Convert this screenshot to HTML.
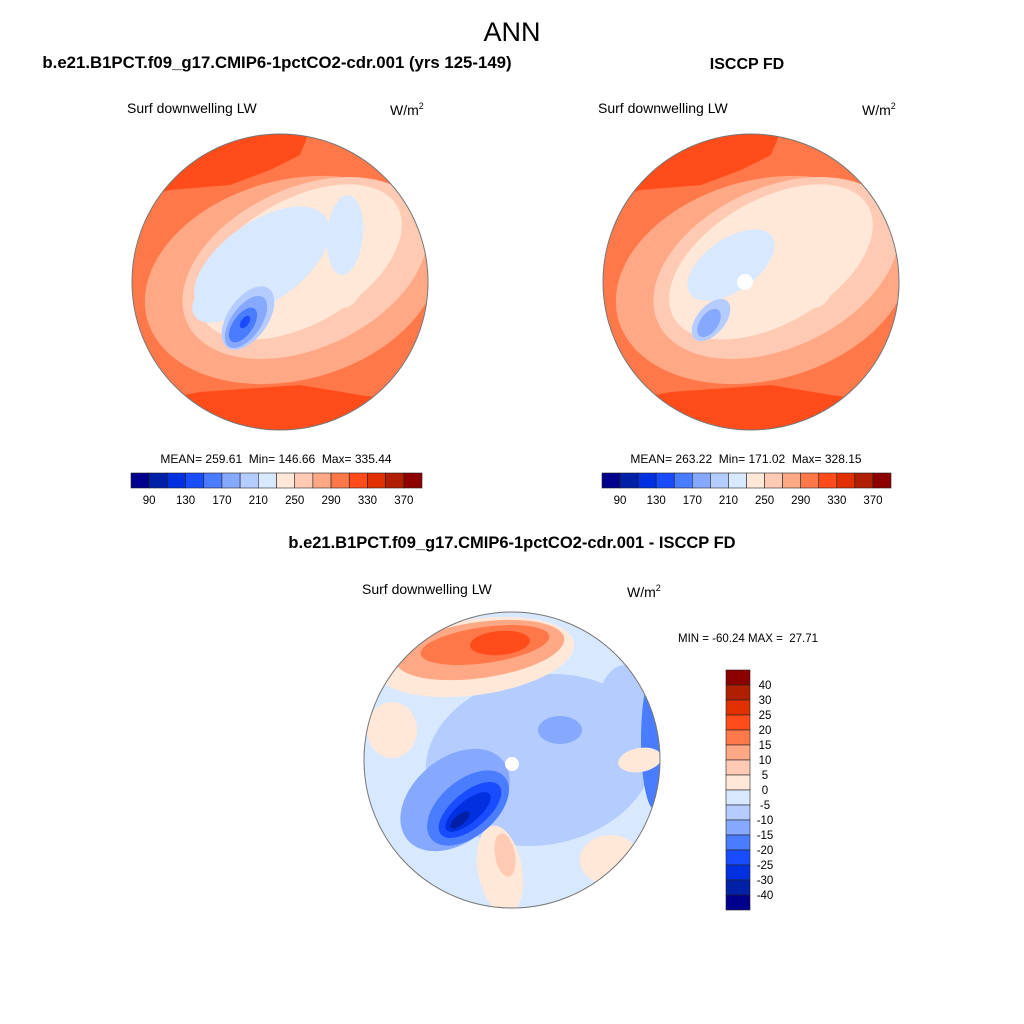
<!DOCTYPE html>
<html><head><meta charset="utf-8"><style>
body{margin:0;background:#fff;}
svg{display:block;font-family:"Liberation Sans",sans-serif;}
</style></head><body>
<svg id="fig" width="1024" height="1024" viewBox="0 0 1024 1024">
<defs>
<clipPath id="c1"><circle cx="280" cy="282" r="148"/></clipPath>
<clipPath id="c2"><circle cx="751" cy="282" r="148"/></clipPath>
<clipPath id="c3"><circle cx="512" cy="760" r="148"/></clipPath>
</defs>
<text x="512" y="41" font-size="27" text-anchor="middle">ANN</text>
<text x="277" y="68" font-size="16.8" font-weight="bold" text-anchor="middle">b.e21.B1PCT.f09_g17.CMIP6-1pctCO2-cdr.001 (yrs 125-149)</text>
<text x="747" y="69" font-size="16" font-weight="bold" text-anchor="middle">ISCCP FD</text>
<text x="512" y="548" font-size="16.5" font-weight="bold" text-anchor="middle">b.e21.B1PCT.f09_g17.CMIP6-1pctCO2-cdr.001 - ISCCP FD</text>

<text x="127" y="113" font-size="14">Surf downwelling LW</text>
<text x="390" y="115" font-size="14">W/m<tspan font-size="9" dy="-6">2</tspan></text>
<text x="598" y="113" font-size="14">Surf downwelling LW</text>
<text x="862" y="115" font-size="14">W/m<tspan font-size="9" dy="-6">2</tspan></text>
<text x="362" y="594" font-size="14">Surf downwelling LW</text>
<text x="627" y="597" font-size="14">W/m<tspan font-size="9" dy="-6">2</tspan></text>

<g id="map1" clip-path="url(#c1)"></g>
<circle cx="280" cy="282" r="148" fill="none" stroke="#777" stroke-width="1"/>
<g id="map2" clip-path="url(#c2)"></g>
<circle cx="751" cy="282" r="148" fill="none" stroke="#777" stroke-width="1"/>
<g id="map3" clip-path="url(#c3)"></g>
<circle cx="512" cy="760" r="148" fill="none" stroke="#777" stroke-width="1"/>

<text x="276" y="463" font-size="12" text-anchor="middle" xml:space="preserve">MEAN= 259.61  Min= 146.66  Max= 335.44</text>
<text x="746" y="463" font-size="12" text-anchor="middle" xml:space="preserve">MEAN= 263.22  Min= 171.02  Max= 328.15</text>
<text x="678" y="642" font-size="11.5" xml:space="preserve">MIN = -60.24 MAX =  27.71</text>
<g id="cb1"></g>
<g id="cb2"></g>
<g id="cb3"></g>
</svg>
<script>
const colors=["#00008c","#0020a8","#0030e0","#1a4cff","#4a7cff","#86a8ff","#b4ccff","#d8e8ff","#ffe8d8","#ffcab4","#ffa886","#ff784a","#ff4c1a","#e03000","#b02000","#8c0000"];
const absLabels=["90","130","170","210","250","290","330","370"];
const diffLabels=["40","30","25","20","15","10","5","0","-5","-10","-15","-20","-25","-30","-40"];
const NS="http://www.w3.org/2000/svg";
function mk(p,t,a){const e=document.createElementNS(NS,t);for(const k in a)e.setAttribute(k,a[k]);p.appendChild(e);return e;}

function hbar(id,x0,w){
  const g=document.getElementById(id);const bw=w/colors.length;
  colors.forEach((c,i)=>{const r=mk(g,'rect',{x:x0+i*bw,y:473,width:bw,height:15,fill:c,stroke:'#222','stroke-width':0.6});
    
    });
  absLabels.forEach((l,i)=>{const t=mk(g,'text',{x:x0+(1+2*i)*bw,y:504,'font-size':11.5,'text-anchor':'middle'});t.textContent=l;
    
    });
}
hbar('cb1',131,291);hbar('cb2',602,289);
(function(){const g=document.getElementById('cb3');const bh=15;
  colors.forEach((c,i)=>{const r=mk(g,'rect',{x:726,y:670+i*bh,width:24,height:bh,fill:colors[15-i],stroke:'#222','stroke-width':0.6});
    
    });
  diffLabels.forEach((l,i)=>{const t=mk(g,'text',{x:765,y:670+(i+1)*bh+4,'font-size':11.5,'text-anchor':'middle'});t.textContent=l;
    
    });
})();

function ell(g,cx,cy,rx,ry,rot,fill){mk(g,'ellipse',{cx,cy,rx,ry,fill,transform:`rotate(${rot} ${cx} ${cy})`});}
function poly(g,pts,fill){mk(g,'polygon',{points:pts,fill});}
function absMap(id,dx,right){
  const g=document.getElementById(id);
  const G=mk(g,'g',{transform:`translate(${dx},0)`});
  mk(G,'rect',{x:120,y:120,width:330,height:330,fill:'#ff784a'});
  poly(G,"130,200 170,190 230,185 270,170 300,155 310,130 130,130",'#ff4c1a');
  poly(G,"130,405 200,392 300,385 360,395 430,405 430,440 130,440",'#ff4c1a');
  ell(G,292,280,150,100,-15,'#ffa886');
  ell(G,305,268,130,80,-25,'#ffcab4');
  ell(G,300,262,112,62,-30,'#ffe8d8');
  ell(G,343,258,25,50,0,'#ffe8d8');
  if(!right){
    ell(G,262,262,78,40,-35,'#d8e8ff');
    ell(G,345,235,18,40,5,'#d8e8ff');
    ell(G,220,300,30,20,-30,'#d8e8ff');
    ell(G,248,318,36,20,-55,'#b4ccff');
    ell(G,246,322,30,15,-55,'#86a8ff');
    ell(G,243,325,20,10,-55,'#4a7cff');
    ell(G,245,322,7,4,-55,'#1a4cff');
  }else{
    ell(G,260,265,50,26,-35,'#d8e8ff');
    ell(G,240,320,25,14,-50,'#b4ccff');
    ell(G,238,323,16,9,-55,'#86a8ff');
    mk(G,'circle',{cx:274,cy:282,r:8,fill:'#fff'});
  }
}
absMap('map1',0,false);absMap('map2',471,true);

(function(){const g=document.getElementById('map3');
  mk(g,'rect',{x:360,y:610,width:305,height:305,fill:'#d8e8ff'});
  ell(g,540,760,115,85,-10,'#b4ccff');
  ell(g,625,720,30,55,0,'#b4ccff');
  ell(g,655,740,14,70,0,'#4a7cff');
  ell(g,640,760,22,12,-10,'#ffe8d8');
  ell(g,610,860,30,25,0,'#ffe8d8');
  ell(g,500,870,22,45,-10,'#ffe8d8');
  ell(g,505,855,10,22,-10,'#ffcab4');
  ell(g,392,730,25,28,0,'#ffe8d8');
  ell(g,560,730,22,14,0,'#86a8ff');
  ell(g,475,657,100,38,-8,'#ffe8d8');
  ell(g,480,650,85,28,-8,'#ffa886');
  ell(g,485,645,65,18,-8,'#ff784a');
  ell(g,500,643,30,12,-5,'#ff4c1a');
  ell(g,455,800,62,42,-40,'#86a8ff');
  ell(g,468,808,48,28,-40,'#4a7cff');
  ell(g,470,810,38,18,-40,'#1a4cff');
  ell(g,468,812,28,11,-40,'#0030e0');
  ell(g,460,820,12,5,-40,'#0020a8');
  mk(g,'circle',{cx:512,cy:764,r:7,fill:'#fff'});
})();
</script>
</body></html>
